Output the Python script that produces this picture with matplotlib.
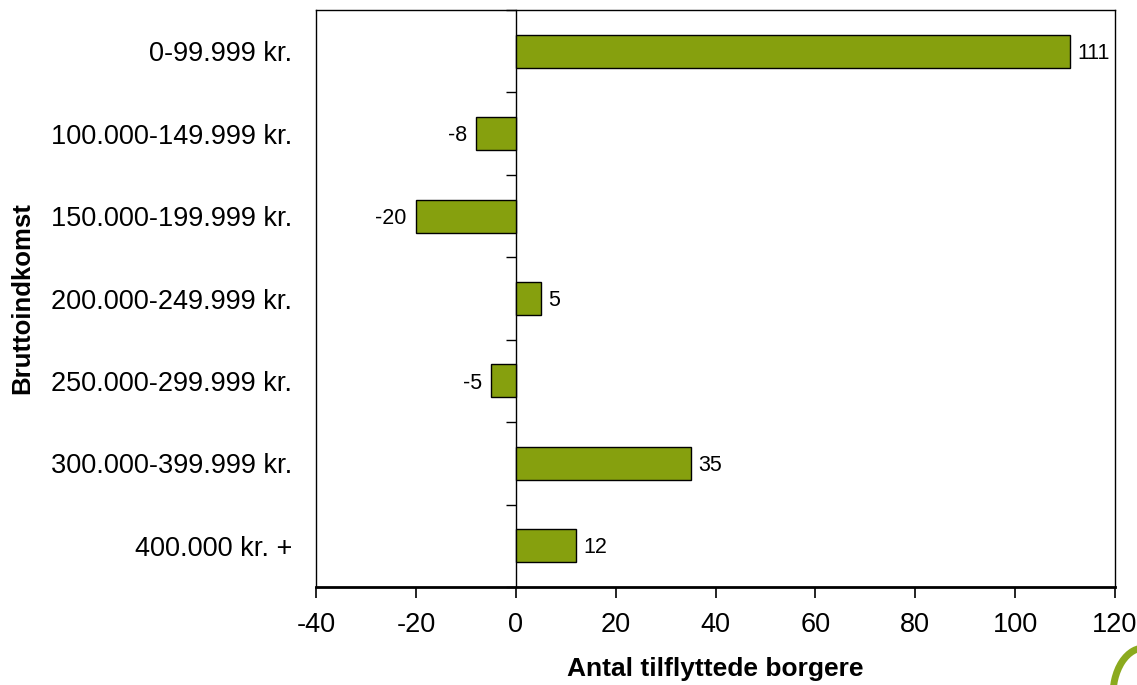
import matplotlib
matplotlib.use("Agg")
import matplotlib.pyplot as plt
from matplotlib.patches import Arc

categories = ["0-99.999 kr.", "100.000-149.999 kr.", "150.000-199.999 kr.",
              "200.000-249.999 kr.", "250.000-299.999 kr.", "300.000-399.999 kr.",
              "400.000 kr. +"]
values = [111, -8, -20, 5, -5, 35, 12]
xticks = [-40, -20, 0, 20, 40, 60, 80, 100, 120]

plt.rcParams['font.family'] = ['Liberation Sans', 'DejaVu Sans']

fig = plt.figure(figsize=(11.37, 6.85), dpi=100)
ax = fig.add_axes([316/1137, 98/685, 799/1137, 577/685])

ypos = list(range(len(categories)))
bars = ax.barh(ypos, values, height=0.4, color='#86A00E', edgecolor='black', linewidth=1.0)

ax.set_xlim(-40, 120)
ax.set_ylim(len(categories) - 0.5, -0.5)
ax.set_xticks(xticks)
ax.set_xticklabels([str(v) for v in xticks], fontsize=19.5)
ax.set_yticks(ypos)
ax.set_yticklabels(categories, fontsize=19.5)
ax.tick_params(axis='y', length=0, pad=17)
ax.tick_params(axis='x', direction='out', length=8, width=1.2, pad=10)

for side in ['top', 'right', 'left']:
    ax.spines[side].set_linewidth(1.0)
ax.spines['bottom'].set_linewidth(2.0)

# zero axis with category-boundary ticks
sec = ax.secondary_yaxis((0 - (-40)) / 160.0)
sec.set_yticks([i - 0.5 for i in range(len(categories) + 1)])
sec.tick_params(axis='y', direction='out', length=7, width=1.0, labelleft=False, labelright=False)
sec.spines['left'].set_linewidth(1.0)
sec.spines['right'].set_linewidth(1.0)

for b, v in zip(bars, values):
    y = b.get_y() + b.get_height() / 2
    if v >= 0:
        ax.annotate(str(v), (v, y), xytext=(5.5, -1.5), textcoords='offset points',
                    ha='left', va='center', fontsize=15.5)
    else:
        ax.annotate(str(v), (v, y), xytext=(-6.5, -1.5), textcoords='offset points',
                    ha='right', va='center', fontsize=15.5)

ax.set_xlabel("Antal tilflyttede borgere", fontsize=19, fontweight='bold', labelpad=14)
ax.set_ylabel("Bruttoindkomst", fontsize=18.5, fontweight='bold', labelpad=12)

# decorative logo fragment bottom right
logo = Arc((1144/1137, -10/685), 62/1137, 94/685, theta1=88, theta2=195,
           transform=fig.transFigure, color='#8BAA1E', linewidth=5, clip_on=False)
fig.add_artist(logo)

fig.savefig("out.png", dpi=100)
